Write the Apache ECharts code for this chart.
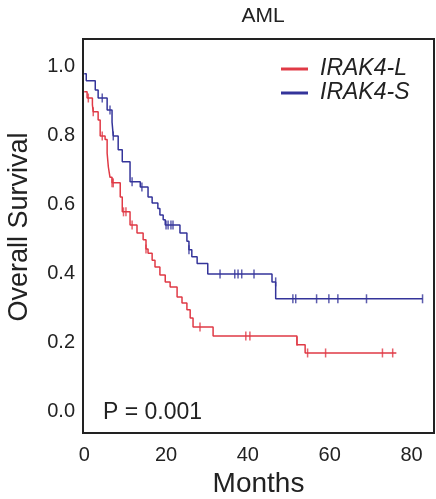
<!DOCTYPE html>
<html>
<head>
<meta charset="utf-8">
<script src="https://cdn.jsdelivr.net/npm/echarts@6/dist/echarts.min.js"></script>
<style>
  html, body { margin: 0; padding: 0; background: #fff; }
  #chart { width: 436px; height: 499px; }
</style>
</head>
<body>
<div id="chart"></div>
<script>
// Kaplan-Meier steps, [month, survival] (value holds until next point)
const longSteps = [
  [0, 0.928], [0.7, 0.91], [2.0, 0.89], [2.2, 0.87], [3.4, 0.846], [3.9, 0.80],
  [5.1, 0.79], [5.6, 0.75], [5.9, 0.71], [6.3, 0.68], [6.8, 0.664], [8.8, 0.623],
  [9.3, 0.58], [11.2, 0.542], [12.9, 0.519], [14.4, 0.499], [15.1, 0.472], [15.6, 0.46],
  [16.6, 0.44], [17.3, 0.42], [18.5, 0.397], [19.8, 0.377], [21.0, 0.362], [22.7, 0.333],
  [23.9, 0.316], [25.1, 0.296], [25.9, 0.272], [26.6, 0.246], [31.5, 0.22], [52.0, 0.195],
  [54.0, 0.171], [76.3, 0.171]
]
const shortSteps = [
  [0, 0.98], [0.5, 0.96], [2.7, 0.933], [3.4, 0.91], [5.6, 0.875], [6.8, 0.84],
  [7.1, 0.80], [8.3, 0.76], [9.3, 0.725], [11.2, 0.667], [13.7, 0.652], [15.6, 0.623],
  [16.6, 0.606], [18.0, 0.59], [18.5, 0.571], [19.3, 0.557], [19.8, 0.542], [23.4, 0.519],
  [25.1, 0.495], [25.6, 0.47], [26.3, 0.45], [27.6, 0.43], [30.2, 0.40], [45.9, 0.377],
  [46.8, 0.328], [82.7, 0.328]
]
// censored marks, [month, survival]
const longCensor = [
  [1.0, 0.91], [2.2, 0.87], [4.4, 0.80], [6.8, 0.664], [7.1, 0.664], [9.6, 0.58],
  [10.2, 0.58], [11.7, 0.542], [15.1, 0.472], [28.3, 0.246], [39.5, 0.22], [40.5, 0.22],
  [52.0, 0.205], [54.6, 0.171], [59.0, 0.171], [72.9, 0.171], [75.4, 0.171]
]
const shortCensor = [
  [4.4, 0.91], [6.3, 0.875], [7.1, 0.80], [11.7, 0.667], [14.1, 0.652], [20.0, 0.542],
  [20.5, 0.542], [21.2, 0.542], [21.7, 0.542], [25.6, 0.47], [33.2, 0.40], [36.8, 0.40],
  [37.6, 0.40], [38.5, 0.40], [41.5, 0.40], [46.8, 0.377], [51.0, 0.328], [51.7, 0.328],
  [56.8, 0.328], [59.8, 0.328], [62.0, 0.328], [69.0, 0.328], [82.7, 0.328]
]
const xTicks = [0, 20, 40, 60, 80]
const yTicks = [0, 0.2, 0.4, 0.6, 0.8, 1.0]
const groupNames = ['IRAK4-L', 'IRAK4-S']

const redColor = '#e03a46'
const blueColor = '#34349a'
const font = '"Liberation Sans", Arial, sans-serif'

const chart = echarts.init(document.getElementById('chart'))

function curve(name, data, color) {
  return {
    name: name,
    type: 'line',
    step: 'end',
    data: data,
    showSymbol: false,
    lineStyle: { color: color, width: 1.5 },
    itemStyle: { color: color },
    animation: false
  }
}

function censor(data, color) {
  return {
    type: 'scatter',
    data: data,
    symbol: 'rect',
    symbolSize: [1.5, 9],
    itemStyle: { color: color },
    animation: false,
    silent: true
  }
}

chart.setOption({
  backgroundColor: '#fff',
  title: {
    text: 'AML',
    left: 258,
    textAlign: 'center',
    top: 1,
    textStyle: { fontFamily: font, fontSize: 21, fontWeight: 'normal', color: '#222' }
  },
  legend: {
    data: groupNames,
    orient: 'vertical',
    left: 276,
    top: 52,
    icon: 'rect',
    itemWidth: 27,
    itemHeight: 3,
    itemGap: 0,
    textStyle: {
      fontFamily: font, fontSize: 23, fontStyle: 'italic', color: '#222',
      lineHeight: 24, padding: [0, 0, 0, 7]
    }
  },
  grid: {
    left: 83, top: 39, right: 2, bottom: 66,
    outerBoundsMode: 'none',
    show: true, borderColor: '#222', borderWidth: 2
  },
  xAxis: {
    type: 'value',
    min: -0.3,
    max: 85.5,
    name: 'Months',
    nameLocation: 'middle',
    nameGap: 36,
    nameTextStyle: { fontFamily: font, fontSize: 28, color: '#222' },
    axisLine: { show: false },
    axisTick: { show: false },
    splitLine: { show: false },
    axisLabel: {
      customValues: xTicks,
      margin: 12,
      fontFamily: font, fontSize: 20, color: '#222'
    }
  },
  yAxis: {
    type: 'value',
    min: -0.061,
    max: 1.081,
    name: 'Overall Survival',
    nameLocation: 'middle',
    nameGap: 50,
    nameTextStyle: { fontFamily: font, fontSize: 27, color: '#222', padding: [0, 0, 0, 18] },
    axisLine: { show: false },
    axisTick: { show: false },
    splitLine: { show: false },
    axisLabel: {
      customValues: yTicks,
      margin: 8,
      formatter: v => v.toFixed(1),
      fontFamily: font, fontSize: 20, color: '#222'
    }
  },
  graphic: [{
    type: 'text',
    left: 103,
    top: 401,
    style: { text: 'P = 0.001', font: '23px "Liberation Sans", Arial, sans-serif', fill: '#222' }
  }],
  series: [
    curve(groupNames[0], longSteps, redColor),
    curve(groupNames[1], shortSteps, blueColor),
    censor(longCensor, redColor),
    censor(shortCensor, blueColor)
  ]
})
</script>
</body>
</html>
